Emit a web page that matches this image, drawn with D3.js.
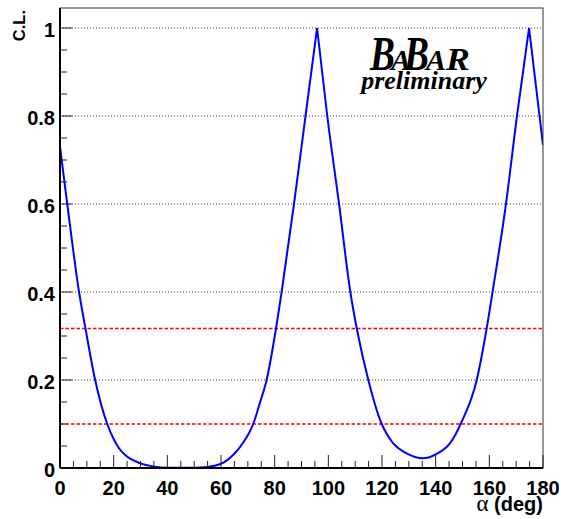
<!DOCTYPE html>
<html>
<head>
<meta charset="utf-8">
<script src="https://cdn.jsdelivr.net/npm/d3@7"></script>
<style>
  body { margin: 0; background: white; }
  text { font-family: "Liberation Sans", Arial, sans-serif; font-weight: bold; }
</style>
</head>
<body>
<div id="chart"></div>
<script>
// C.L. vs alpha
const alpha = [0, 2.7, 7.1, 9.5, 13.1, 17.6, 20.0, 22.0, 24.2, 29.8, 35.4, 40, 48, 52.2, 57.1, 60.9, 64.6, 68.3,
  70.3, 72.0, 74.5, 77.0, 80.5, 82.6, 87.2, 91.5, 95.8, 99.6, 104.0, 108.2, 110.6, 114.9, 119.9, 121.8, 123.9, 129.2,
  135.2, 140.4, 145.3, 147.4, 149.3, 155.3, 159.0, 161.2, 166.2, 170.3, 174.8, 180];
const cl = [0.73, 0.6, 0.4, 0.317, 0.2, 0.1, 0.066, 0.045, 0.03, 0.011, 0.003, 0.0005, 0.0004, 0.001, 0.0045, 0.012, 0.03, 0.058,
  0.078, 0.1, 0.148, 0.2, 0.317, 0.4, 0.6, 0.8, 1.0, 0.8, 0.6, 0.4, 0.317, 0.2, 0.1, 0.077, 0.058, 0.033,
  0.022, 0.032, 0.056, 0.076, 0.1, 0.2, 0.317, 0.4, 0.6, 0.8, 1.0, 0.734];
const peaks = [95.8, 174.8];           // cusp positions, curve is split there
const clLevels = [0.317, 0.1];         // red dashed reference lines
const gridLevels = [0.2, 0.4, 0.6, 0.8, 1];
const xTicks = d3.range(0, 181, 20);
const yTicks = [0, 0.2, 0.4, 0.6, 0.8, 1];

const margin = ({ top: 8, right: 18, bottom: 51, left: 60 });
const width = 561 - margin.left - margin.right;
const height = 519 - margin.top - margin.bottom;

const svg = d3.select("#chart").append("svg")
    .attr("width", width + margin.left + margin.right)
    .attr("height", height + margin.top + margin.bottom);

const g = svg.append("g")
    .attr("transform", "translate(" + margin.left + "," + margin.top + ")");

const x = d3.scaleLinear().domain([0, 180]).range([0, width]);
const y = d3.scaleLinear().domain([0, 460 / 440]).range([height, 0]);

// grid
g.selectAll(".grid")
    .data(gridLevels)
    .join("line")
    .attr("x1", 0).attr("x2", width)
    .attr("y1", d => y(d)).attr("y2", d => y(d))
    .attr("stroke", "#444")
    .attr("stroke-width", 1)
    .attr("stroke-dasharray", "1,2");

// red C.L. lines
g.selectAll(".cl")
    .data(clLevels)
    .join("line")
    .attr("x1", 0).attr("x2", width)
    .attr("y1", d => y(d)).attr("y2", d => y(d))
    .attr("stroke", "#ff0000")
    .attr("stroke-width", 1.5)
    .attr("stroke-dasharray", "3.5,2");

// curve, one piece between cusps
const pts = alpha.map((a, i) => ({ a: a, v: cl[i] }));
const cuts = [0, ...peaks, 180];
const pieces = [];
for (let i = 0; i < cuts.length - 1; i++) {
    pieces.push(pts.filter(p => p.a >= cuts[i] && p.a <= cuts[i + 1]));
}
const line = d3.line()
    .x(d => x(d.a))
    .y(d => y(d.v))
    .curve(d3.curveMonotoneX);

svg.append("clipPath").attr("id", "clip")
    .append("rect").attr("width", width).attr("height", height);

g.append("g")
    .attr("clip-path", "url(#clip)")
    .selectAll("path")
    .data(pieces)
    .join("path")
    .attr("d", line)
    .attr("fill", "none")
    .attr("stroke", "#0000ff")
    .attr("stroke-width", 2)
    .attr("stroke-linejoin", "round");

// frame
g.append("rect")
    .attr("width", width).attr("height", height)
    .attr("fill", "none")
    .attr("stroke", "#333")
    .attr("stroke-width", 1);

// x axis
const xMinor = d3.range(0, 181, 5);
g.selectAll(".xtick")
    .data(xMinor)
    .join("line")
    .attr("x1", d => x(d)).attr("x2", d => x(d))
    .attr("y1", height).attr("y2", d => height - (d % 20 === 0 ? 13 : 7))
    .attr("stroke", "#222")
    .attr("stroke-width", 1);
g.append("line")
    .attr("x1", 0).attr("x2", width)
    .attr("y1", height).attr("y2", height)
    .attr("stroke", "black").attr("stroke-width", 2);
g.selectAll(".xlab")
    .data(xTicks)
    .join("text")
    .attr("x", d => x(d))
    .attr("y", height + 27)
    .attr("text-anchor", "middle")
    .attr("font-size", 20)
    .text(d => d);

// y axis
const yMinor = d3.range(0, 21).map(i => i * 0.05);
g.selectAll(".ytick")
    .data(yMinor)
    .join("line")
    .attr("x1", 0).attr("x2", (d, i) => (i % 4 === 0 ? 12 : 7))
    .attr("y1", d => y(d)).attr("y2", d => y(d))
    .attr("stroke", "#222")
    .attr("stroke-width", 1);
g.append("line")
    .attr("x1", 0).attr("x2", 0)
    .attr("y1", 0).attr("y2", height)
    .attr("stroke", "black").attr("stroke-width", 2);
g.selectAll(".ylab")
    .data(yTicks)
    .join("text")
    .attr("x", -5)
    .attr("y", d => y(d) + 8.5)
    .attr("text-anchor", "end")
    .attr("font-size", 20)
    .text(d => d);

// axis titles
const xt = svg.append("text")
    .attr("x", 543)
    .attr("y", 511)
    .attr("text-anchor", "end")
    .attr("font-size", 20);
xt.append("tspan")
    .style("font-family", "'Liberation Serif', serif")
    .style("font-weight", "normal")
    .attr("font-size", 23)
    .text("α");
xt.append("tspan").text(" (deg)");

svg.append("text")
    .attr("transform", "translate(25,10) rotate(-90)")
    .attr("text-anchor", "end")
    .attr("font-size", 16.5)
    .text("C.L.");

// BaBar logo: tall narrow B's, smaller A's and R
const letters = [
    { t: "B", x: 370, s: 48, k: 0.78 },
    { t: "A", x: 391, s: 30, k: 1 },
    { t: "B", x: 404, s: 48, k: 0.78 },
    { t: "A", x: 426, s: 30, k: 1 },
    { t: "R", x: 446, s: 31, k: 1.15 }
];
svg.selectAll(".logo")
    .data(letters)
    .join("text")
    .attr("transform", d => "translate(" + d.x + ",70) scale(" + d.k + ",1)")
    .style("font-family", "'Liberation Serif', serif")
    .style("font-style", "italic")
    .attr("font-size", d => d.s)
    .text(d => d.t);

svg.append("text")
    .style("font-family", "'Liberation Serif', serif")
    .style("font-style", "italic")
    .attr("x", 424)
    .attr("y", 89)
    .attr("text-anchor", "middle")
    .attr("font-size", 26)
    .text("preliminary");
</script>
</body>
</html>
